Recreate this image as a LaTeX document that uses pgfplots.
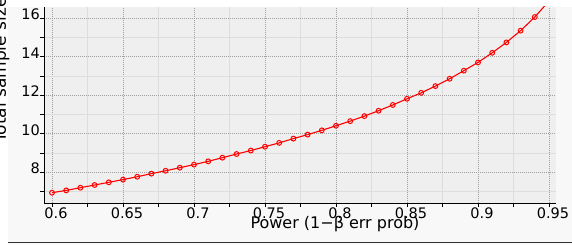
\documentclass[border=0pt]{standalone}
\usepackage{pgfplots}
\pgfplotsset{compat=1.18}
\usepackage{fontspec}
\setmainfont{DejaVu Sans}
\definecolor{plotbg}{HTML}{EFEFEF}
\definecolor{outerbg}{HTML}{F8F8F8}
\definecolor{majgrid}{HTML}{A0A0A0}
\definecolor{mingrid}{HTML}{DDDDDD}
\definecolor{gpred}{HTML}{FF0000}
\definecolor{darkline}{HTML}{333333}
\pgfplotstableread{
x y
0.60 6.94
0.61 7.06
0.62 7.20
0.63 7.34
0.64 7.48
0.65 7.62
0.66 7.77
0.67 7.93
0.68 8.08
0.69 8.24
0.70 8.40
0.71 8.57
0.72 8.76
0.73 8.95
0.74 9.13
0.75 9.33
0.76 9.53
0.77 9.75
0.78 9.96
0.79 10.18
0.80 10.42
0.81 10.66
0.82 10.92
0.83 11.20
0.84 11.50
0.85 11.82
0.86 12.13
0.87 12.48
0.88 12.86
0.89 13.28
0.90 13.71
0.91 14.21
0.92 14.75
0.93 15.36
0.94 16.07
0.95 16.90
}\datatable
\begin{document}
\begin{tikzpicture}[x=1pt,y=1pt]
\fill[outerbg] (0,0) rectangle (572,244);
\fill[white] (0,237) rectangle (572,244);
\fill[white] (0,0) rectangle (8,244);
\begin{axis}[at={(44pt,41pt)}, anchor=south west, scale only axis,
  width=512pt, height=196pt,
  xmin=0.59437, xmax=0.95493, ymin=6.405, ymax=16.59,
  xtick={0.6,0.65,0.7,0.75,0.8,0.85,0.9,0.95},
  xticklabels={0.6,0.65,0.7,0.75,0.8,0.85,0.9,0.95},
  minor xtick={0.625,0.675,0.725,0.775,0.825,0.875,0.925},
  ytick={8,10,12,14,16},
  yticklabels={8,10,12,14,16},
  minor ytick={7,9,11,13,15},
  grid=both,
  major grid style={majgrid, dash pattern=on 1pt off 1pt, line width=0.7pt},
  minor grid style={mingrid, line width=0.6pt},
  axis lines*=left,
  axis line style={black, line width=0.9pt},
  tick align=outside, major tick length=4pt, minor tick length=4pt,
  tick style={black, line width=0.8pt},
  axis background/.style={fill=plotbg},
  xticklabel style={font=\fontsize{14.5}{16}\selectfont, anchor=base, inner sep=0pt, yshift=-11pt, xshift=4pt},
  yticklabel style={font=\fontsize{14.5}{16}\selectfont, anchor=base east, inner sep=0pt, yshift=-1.3pt},
  xlabel={Power (1−β err prob)},
  xlabel style={font=\fontsize{16}{18}\selectfont, at={(axis description cs:0.5,0)}, anchor=base, inner sep=0pt, yshift=-25pt, xshift=35pt},
  clip=true,
]
\addplot[gpred, line width=1.1pt, mark=o, mark size=2.4pt, mark options={fill=white, line width=1pt}] table[x=x,y=y] {\datatable};
\end{axis}
\node[rotate=90, anchor=base west, inner sep=0pt, font=\fontsize{17}{19}\selectfont] at (6,101) {Total sample size};
\draw[darkline, line width=1pt] (8,1.5) -- (572,1.5);
\pgfresetboundingbox
\path (0,0) rectangle (572,244);
\end{tikzpicture}
\end{document}
